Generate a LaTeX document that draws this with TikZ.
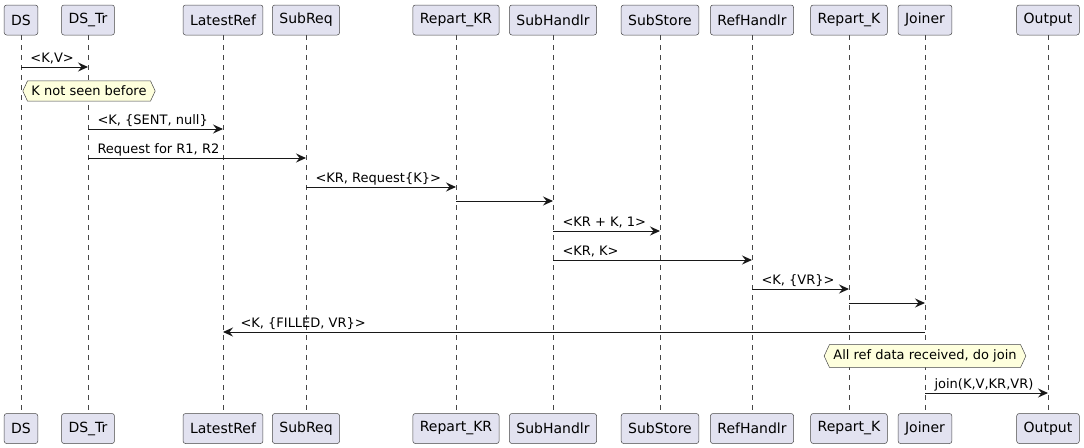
\documentclass[tikz,border=0pt]{standalone}
\usepackage{fontspec}
\setmainfont{DejaVu Sans}
\usetikzlibrary{positioning, arrows.meta, shapes.symbols}
\definecolor{partfill}{HTML}{E2E2F0}
\definecolor{notefill}{HTML}{FEFFDD}
\definecolor{umlline}{HTML}{181818}

\begin{document}
\begin{tikzpicture}[
    x=1pt, y=-1pt,
    part/.style={rectangle, rounded corners=2.5pt, draw=umlline!80, line width=0.5pt, fill=partfill, minimum height=30pt, inner xsep=7pt, font=\fontsize{14}{16}\selectfont},
    life/.style={draw=umlline!80, line width=0.5pt, dash pattern=on 5pt off 5pt},
    msg/.style={draw=umlline, line width=1pt, -{Stealth[length=10pt,width=9pt,inset=3.5pt]}},
    lbl/.style={anchor=base west, inner sep=0pt, xshift=9pt, yshift=5pt, font=\fontsize{13}{15}\selectfont},
    hnote/.style={signal, signal to=east and west, signal pointer angle=130, draw=umlline!80, line width=0.5pt, fill=notefill, inner xsep=4pt, inner ysep=5pt, font=\fontsize{13}{15}\selectfont}
]
    \useasboundingbox (0,0) rectangle (1084,447);

    % Participants
    \node[part] (ds) at (21,20) {DS};
    \node[part] (dstr) at (88,20) {DS\_Tr};
    \node[part] (latest) at (223,20) {LatestRef};
    \node[part] (subreq) at (306,20) {SubReq};
    \node[part] (repkr) at (456,20) {Repart\_KR};
    \node[part] (subh) at (553,20) {SubHandlr};
    \node[part] (subst) at (660,20) {SubStore};
    \node[part] (refh) at (752,20) {RefHandlr};
    \node[part] (repk) at (849,20) {Repart\_K};
    \node[part] (joiner) at (925,20) {Joiner};
    \node[part] (output) at (1048,20) {Output};

    \node[part, below=378pt of ds] (ds-b) {DS};
    \node[part, below=378pt of dstr] (dstr-b) {DS\_Tr};
    \node[part, below=378pt of latest] (latest-b) {LatestRef};
    \node[part, below=378pt of subreq] (subreq-b) {SubReq};
    \node[part, below=378pt of repkr] (repkr-b) {Repart\_KR};
    \node[part, below=378pt of subh] (subh-b) {SubHandlr};
    \node[part, below=378pt of subst] (subst-b) {SubStore};
    \node[part, below=378pt of refh] (refh-b) {RefHandlr};
    \node[part, below=378pt of repk] (repk-b) {Repart\_K};
    \node[part, below=378pt of joiner] (joiner-b) {Joiner};
    \node[part, below=378pt of output] (output-b) {Output};

    % Lifelines
    \draw[life] (ds) -- (ds-b);
    \draw[life] (dstr) -- (dstr-b);
    \draw[life] (latest) -- (latest-b);
    \draw[life] (subreq) -- (subreq-b);
    \draw[life] (repkr) -- (repkr-b);
    \draw[life] (subh) -- (subh-b);
    \draw[life] (subst) -- (subst-b);
    \draw[life] (refh) -- (refh-b);
    \draw[life] (repk) -- (repk-b);
    \draw[life] (joiner) -- (joiner-b);
    \draw[life] (output) -- (output-b);

    % Message rows
    \coordinate (m1) at (0,67);
    \coordinate (m2) at (0,129);
    \coordinate (m3) at (0,158);
    \coordinate (m4) at (0,187);
    \coordinate (m5) at (0,201);
    \coordinate (m6) at (0,231);
    \coordinate (m7) at (0,260);
    \coordinate (m8) at (0,289);
    \coordinate (m9) at (0,303);
    \coordinate (m10) at (0,332);
    \coordinate (m11) at (0,393);

    % Notes
    \node[hnote] (note1) at (89,91) {K not seen before};
    \node[hnote] (note2) at (925,356) {All ref data received, do join};

    % Arrows
    \draw[msg] (ds |- m1) -- node[lbl, pos=0] {<K,V>} (dstr |- m1);
    \draw[msg] (dstr |- m2) -- node[lbl, pos=0] {<K, \{SENT, null\}} (latest |- m2);
    \draw[msg] (dstr |- m3) -- node[lbl, pos=0] {Request for R1, R2} (subreq |- m3);
    \draw[msg] (subreq |- m4) -- node[lbl, pos=0] {<KR, Request\{K\}>} (repkr |- m4);
    \draw[msg] (repkr |- m5) -- (subh |- m5);
    \draw[msg] (subh |- m6) -- node[lbl, pos=0] {<KR + K, 1>} (subst |- m6);
    \draw[msg] (subh |- m7) -- node[lbl, pos=0] {<KR, K>} (refh |- m7);
    \draw[msg] (refh |- m8) -- node[lbl, pos=0] {<K, \{VR\}>} (repk |- m8);
    \draw[msg] (repk |- m9) -- (joiner |- m9);
    \draw[msg] (joiner |- m10) -- node[lbl, pos=1, xshift=8pt] {<K, \{FILLED, VR\}>} (latest |- m10);
    \draw[msg] (joiner |- m11) -- node[lbl, pos=0] {join(K,V,KR,VR)} (output |- m11);
\end{tikzpicture}
\end{document}
